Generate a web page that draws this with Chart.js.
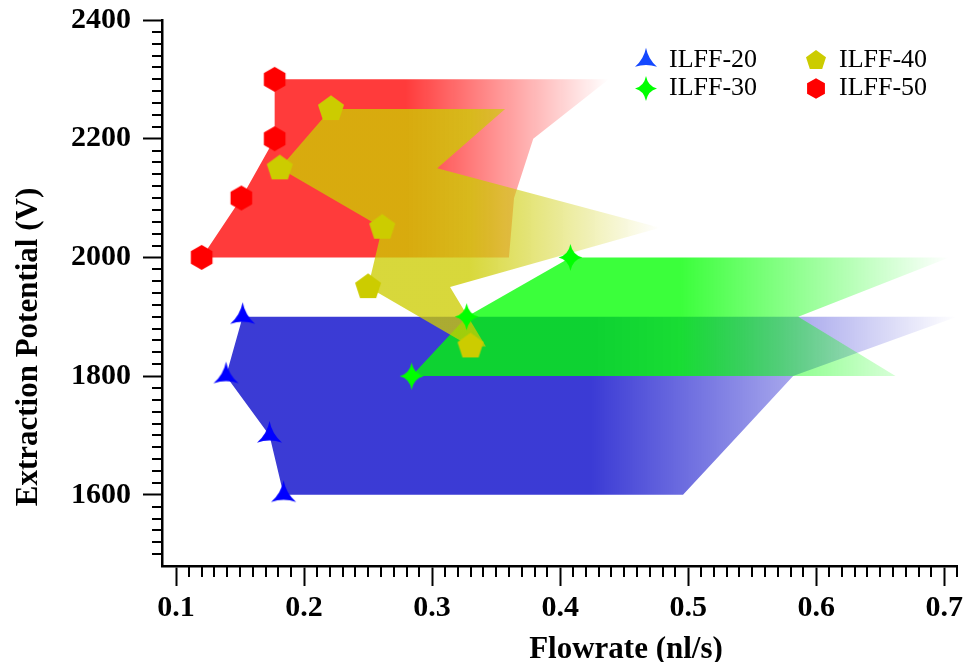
<!DOCTYPE html>
<html>
<head>
<meta charset="utf-8">
<script src="https://cdn.jsdelivr.net/npm/chart.js@4.4.1/dist/chart.umd.min.js"></script>
<style>
  html, body { margin: 0; padding: 0; background: #fff; }
</style>
</head>
<body>
<canvas id="chart" width="968" height="662"></canvas>
<script>
// ILFF-20 (markers sit on the low-flow edge, fill runs out to the high-flow edge)
const potential20 = [1600, 1700, 1800, 1900];
const flowMin20 = [0.184, 0.173, 0.139, 0.152];
const flowMax20 = [0.496, 0.539, 0.582, 0.71];

// ILFF-30
const potential30 = [1800, 1900, 2000];
const flowMin30 = [0.284, 0.327, 0.408];
const flowMax30 = [0.662, 0.586, 0.704];

// ILFF-40
const potential40 = [1850, 1950, 2050, 2150, 2250];
const flowMin40 = [0.330, 0.250, 0.261, 0.181, 0.221];
const flowMax40 = [0.342, 0.314, 0.478, 0.304, 0.357];

// ILFF-50
const potential50 = [2000, 2100, 2200, 2300];
const flowMin50 = [0.120, 0.151, 0.177, 0.177];
const flowMax50 = [0.360, 0.364, 0.379, 0.438];

const xTicks = [0.1, 0.2, 0.3, 0.4, 0.5, 0.6, 0.7];
const yTicks = [1600, 1800, 2000, 2200, 2400];

const serif = "'Liberation Serif', 'Times New Roman', serif";
Chart.defaults.font.family = serif;
Chart.defaults.color = '#000';

function markerPath(c, shape, cx, cy, r) {
  c.beginPath();
  if (shape === 'tristar' || shape === 'star4') {
    let tips, inner;
    if (shape === 'tristar') {
      tips = [-90, 30, 150].map(a => [cx + r * Math.cos(a * Math.PI / 180), cy + r * Math.sin(a * Math.PI / 180)]);
      inner = 0.2 * r;
    } else {
      const rx = r * 0.88;
      tips = [[cx, cy - r], [cx + rx, cy], [cx, cy + r], [cx - rx, cy]];
      inner = 0.24 * r;
    }
    c.moveTo(tips[0][0], tips[0][1]);
    for (let k = 1; k <= tips.length; k++) {
      const a = tips[k - 1], b = tips[k % tips.length];
      // control point pushed a little out from the centre, toward the gap between tips
      const mx = (a[0] + b[0]) / 2 - cx, my = (a[1] + b[1]) / 2 - cy;
      const len = Math.hypot(mx, my) || 1;
      c.quadraticCurveTo(cx + mx / len * inner, cy + my / len * inner, b[0], b[1]);
    }
  } else {
    const n = shape === 'pentagon' ? 5 : 6;
    for (let k = 0; k < n; k++) {
      const a = (-90 + k * 360 / n) * Math.PI / 180;
      const px = cx + r * Math.cos(a), py = cy + r * Math.sin(a);
      if (k === 0) c.moveTo(px, py); else c.lineTo(px, py);
    }
  }
  c.closePath();
}

function makeMarker(shape, r, color) {
  const size = Math.ceil(r * 2 + 4);
  const cv = document.createElement('canvas');
  cv.width = size; cv.height = size;
  const c = cv.getContext('2d');
  c.fillStyle = color;
  markerPath(c, shape, size / 2, size / 2, r);
  c.fill();
  return cv;
}

function points(xs, ys) {
  return xs.map((x, i) => ({ x, y: ys[i] }));
}

// left edge top-down, then right edge back up
function outline(mins, maxs, ys) {
  const pts = points(mins, ys);
  for (let i = ys.length - 1; i >= 0; i--) pts.push({ x: maxs[i], y: ys[i] });
  return pts;
}

function fadeFill(rgb, mins, maxs) {
  const lo = Math.min(...mins), hi = Math.max(...maxs);
  return (context) => {
    const chart = context.chart;
    if (!chart.chartArea) return `rgba(${rgb},0.77)`;
    const sx = chart.scales.x;
    const g = chart.ctx.createLinearGradient(sx.getPixelForValue(lo), 0, sx.getPixelForValue(hi), 0);
    g.addColorStop(0, `rgba(${rgb},0.77)`);
    g.addColorStop(0.5, `rgba(${rgb},0.77)`);
    g.addColorStop(1, `rgba(${rgb},0)`);
    return g;
  };
}

function band(mins, maxs, ys, rgb, order) {
  return {
    type: 'line',
    data: outline(mins, maxs, ys),
    fill: 'shape',
    backgroundColor: fadeFill(rgb, mins, maxs),
    borderWidth: 0,
    pointRadius: 0,
    tension: 0,
    order
  };
}

const series = [
  { label: 'ILFF-20', shape: 'tristar', color: '#0000ff', legendColor: '#1448ff', r: 14.5, lr: 12.7 },
  { label: 'ILFF-30', shape: 'star4', color: '#00ff00', legendColor: '#00ff00', r: 13.5, lr: 12.5 },
  { label: 'ILFF-40', shape: 'pentagon', color: '#cccc00', legendColor: '#cccc00', r: 13.7, lr: 10.5 },
  { label: 'ILFF-50', shape: 'hexagon', color: '#ff0000', legendColor: '#ff0000', r: 12.5, lr: 10.3 }
];

function markers(s, xs, ys) {
  return {
    type: 'scatter',
    label: s.label,
    data: points(xs, ys),
    pointStyle: makeMarker(s.shape, s.r, s.color),
    pointRadius: 5,
    order: 0
  };
}

const decor = {
  id: 'decor',
  afterDraw(chart) {
    const { ctx, chartArea: area } = chart;
    const sx = chart.scales.x, sy = chart.scales.y;
    ctx.save();
    // minor ticks
    ctx.strokeStyle = '#000';
    ctx.lineWidth = 2;
    ctx.beginPath();
    for (let i = 11; i <= 71; i++) {
      if (i % 10 === 0) continue;
      const px = Math.round(sx.getPixelForValue(i / 100));
      ctx.moveTo(px, area.bottom);
      ctx.lineTo(px, area.bottom + 11);
    }
    for (let v = 1500; v < 2400; v += 20) {
      if (v % 200 === 0) continue;
      const py = Math.round(sy.getPixelForValue(v));
      ctx.moveTo(area.left, py);
      ctx.lineTo(area.left - 10, py);
    }
    ctx.stroke();

    // axis titles
    ctx.fillStyle = '#000';
    ctx.font = `bold 31px ${serif}`;
    ctx.textAlign = 'center';
    ctx.textBaseline = 'alphabetic';
    ctx.fillText('Flowrate (nl/s)', 626, 658);
    ctx.save();
    ctx.translate(37, 347);
    ctx.rotate(-Math.PI / 2);
    ctx.fillText('Extraction Potential (V)', 0, 0);
    ctx.restore();

    // legend, two columns
    const cols = [area.left + 484, area.left + 654];
    const rows = [area.top + 40.5, area.top + 68.5];
    ctx.font = `26px ${serif}`;
    ctx.textAlign = 'left';
    series.forEach((s, i) => {
      const cx = cols[Math.floor(i / 2)], cy = rows[i % 2];
      ctx.fillStyle = s.legendColor;
      markerPath(ctx, s.shape, cx, cy, s.lr);
      ctx.fill();
      ctx.fillStyle = '#000';
      ctx.fillText(s.label, cx + 23, cy + 6.5);
    });
    ctx.restore();
  }
};

const tickFont = { size: 30, weight: 'bold' };

new Chart(document.getElementById('chart'), {
  type: 'scatter',
  data: {
    datasets: [
      markers(series[0], flowMin20, potential20),
      markers(series[1], flowMin30, potential30),
      markers(series[2], flowMin40, potential40),
      markers(series[3], flowMin50, potential50),
      band(flowMin40, flowMax40, potential40, '204,204,0', 1),
      band(flowMin50, flowMax50, potential50, '255,0,0', 2),
      band(flowMin30, flowMax30, potential30, '0,255,0', 3),
      band(flowMin20, flowMax20, potential20, '0,0,200', 4)
    ]
  },
  options: {
    responsive: false,
    animation: false,
    events: [],
    layout: { padding: { top: 20, right: 11, left: 0, bottom: 0 } },
    plugins: {
      legend: { display: false },
      tooltip: { enabled: false }
    },
    scales: {
      x: {
        type: 'linear',
        min: 0.089,
        max: 0.71,
        afterFit: s => { s.height = 96; s.paddingLeft = 0; s.paddingRight = 0; },
        afterBuildTicks: s => { s.ticks = xTicks.map(value => ({ value })); },
        ticks: {
          font: tickFont,
          padding: 4,
          maxRotation: 0,
          autoSkip: false,
          callback: v => v.toFixed(1)
        },
        grid: { drawOnChartArea: false, tickLength: 20, tickWidth: 2, tickColor: '#000' },
        border: { display: true, color: '#000', width: 2.5 }
      },
      y: {
        type: 'linear',
        min: 1480,
        max: 2400,
        afterFit: s => { s.width = 162; s.paddingTop = 0; s.paddingBottom = 0; },
        afterBuildTicks: s => { s.ticks = yTicks.map(value => ({ value })); },
        ticks: {
          font: tickFont,
          padding: 12,
          callback: v => String(v)
        },
        grid: { drawOnChartArea: false, tickLength: 19, tickWidth: 2, tickColor: '#000' },
        border: { display: true, color: '#000', width: 2.5 }
      }
    }
  },
  plugins: [decor]
});
</script>
</body>
</html>
